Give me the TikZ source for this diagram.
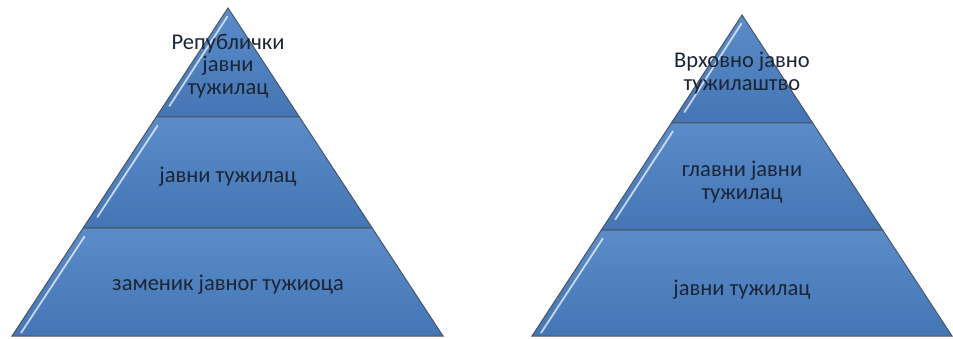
\documentclass[tikz,border=0pt]{standalone}
\usepackage{fontspec}
\setmainfont{Carlito}
\usetikzlibrary{calc}
\definecolor{LayerTop}{HTML}{5A8CCA}
\definecolor{LayerLow}{HTML}{4475B4}
\definecolor{EdgeGray}{HTML}{4A5664}
\definecolor{LabelInk}{HTML}{1B2535}

\begin{document}
\begin{tikzpicture}[x=1pt,y=1pt,
layer/.style={draw=EdgeGray,line width=1pt,line join=miter,top color=LayerTop,bottom color=LayerLow},
gloss/.style={draw=white,line width=1.8pt,opacity=0.7,line cap=round},
label/.style={font=\fontsize{22.5}{22.5}\selectfont,text=LabelInk,align=center,inner sep=0pt}
]
\useasboundingbox (0,0) rectangle (953,338);

% Pyramid A: republic level
\coordinate (LA) at (228,330);
\coordinate (LB) at (12,2);
\coordinate (LC) at (443,2);
\coordinate (L1l) at ($(LA)!0.332!(LB)$);
\coordinate (L1r) at ($(LA)!0.332!(LC)$);
\coordinate (L2l) at ($(LA)!0.671!(LB)$);
\coordinate (L2r) at ($(LA)!0.671!(LC)$);
\draw[layer] (LA) -- (L1r) -- (L1l) -- cycle;
\draw[layer] (L1l) -- (L1r) -- (L2r) -- (L2l) -- cycle;
\draw[layer] (L2l) -- (L2r) -- (LC) -- (LB) -- cycle;
\draw[gloss] ($(LA)!0.08!(L1l)+(5,0)$) -- ($(LA)!0.9!(L1l)+(6,0)$);
\draw[gloss] ($(L1l)!0.08!(L2l)+(7,0)$) -- ($(L1l)!0.9!(L2l)+(7,0)$);
\draw[gloss] ($(L2l)!0.08!(LB)+(7,0)$) -- ($(L2l)!0.97!(LB)+(7,0)$);
\node[label] (repTop) at (228,272) {Републички\\јавни\\тужилац};
\node[label] (repMid) at (228,161) {јавни тужилац};
\node[label] (repLow) at (228,53) {заменик јавног тужиоца};

% Pyramid B: supreme level
\coordinate (RA) at (742,323);
\coordinate (RB) at (532,2);
\coordinate (RC) at (952,2);
\coordinate (R1l) at ($(RA)!0.336!(RB)$);
\coordinate (R1r) at ($(RA)!0.336!(RC)$);
\coordinate (R2l) at ($(RA)!0.670!(RB)$);
\coordinate (R2r) at ($(RA)!0.670!(RC)$);
\draw[layer] (RA) -- (R1r) -- (R1l) -- cycle;
\draw[layer] (R1l) -- (R1r) -- (R2r) -- (R2l) -- cycle;
\draw[layer] (R2l) -- (R2r) -- (RC) -- (RB) -- cycle;
\draw[gloss] ($(RA)!0.08!(R1l)+(5,0)$) -- ($(RA)!0.9!(R1l)+(6,0)$);
\draw[gloss] ($(R1l)!0.08!(R2l)+(7,0)$) -- ($(R1l)!0.9!(R2l)+(7,0)$);
\draw[gloss] ($(R2l)!0.08!(RB)+(7,0)$) -- ($(R2l)!0.97!(RB)+(7,0)$);
\node[label] (supTop) at (742,265) {Врховно јавно\\тужилаштво};
\node[label] (supMid) at (742,156) {главни јавни\\тужилац};
\node[label] (supLow) at (742,48) {јавни тужилац};
\end{tikzpicture}
\end{document}
